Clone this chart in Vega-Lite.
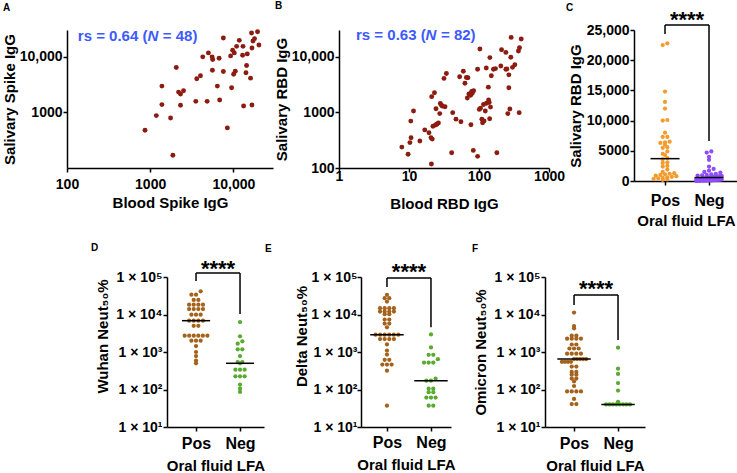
{
"$schema": "https://vega.github.io/schema/vega-lite/v6.json",
"padding": {"left": 2, "top": 0, "right": 0, "bottom": 0},
"datasets": {
"A": [{"x":867,"y":477},{"x":1186,"y":873},{"x":1384,"y":2950},{"x":1384,"y":1373},{"x":1760,"y":791},{"x":1875,"y":169},{"x":2060,"y":6360},{"x":2195,"y":2304},{"x":2318,"y":2123},{"x":2518,"y":2441},{"x":2318,"y":1334},{"x":3537,"y":1572},{"x":3634,"y":3995},{"x":4027,"y":4522},{"x":4290,"y":9880},{"x":4842,"y":1572},{"x":5018,"y":11640},{"x":5557,"y":9880},{"x":5650,"y":8840},{"x":5605,"y":5690},{"x":6740,"y":9330},{"x":6430,"y":2950},{"x":6850,"y":1660},{"x":7590,"y":21570},{"x":7590,"y":5400},{"x":8475,"y":525},{"x":9280,"y":10290},{"x":9540,"y":2760},{"x":9810,"y":12960},{"x":10080,"y":4830},{"x":10560,"y":5465},{"x":10950,"y":15270},{"x":10280,"y":11640},{"x":11800,"y":19540},{"x":13070,"y":15270},{"x":12920,"y":10550},{"x":13290,"y":1296},{"x":14430,"y":6910},{"x":14190,"y":5115},{"x":14720,"y":11170},{"x":16110,"y":4098},{"x":16560,"y":26500},{"x":16750,"y":14300},{"x":17220,"y":19070},{"x":17990,"y":20960},{"x":16750,"y":1350},{"x":19550,"y":27950},{"x":20320,"y":16180}],
"B": [{"x":7.9,"y":237},{"x":9.7,"y":176},{"x":10.3,"y":286},{"x":10.7,"y":350},{"x":10.6,"y":695},{"x":11.6,"y":1055},{"x":14.3,"y":305},{"x":16.8,"y":483},{"x":19.3,"y":428},{"x":20.6,"y":350},{"x":20.9,"y":118},{"x":21.1,"y":1910},{"x":23.1,"y":2245},{"x":22.0,"y":561},{"x":23.9,"y":591},{"x":26.3,"y":641},{"x":24.3,"y":1160},{"x":27.5,"y":948},{"x":28.0,"y":1440},{"x":30.0,"y":1290},{"x":32.7,"y":1260},{"x":31.6,"y":4060},{"x":34.2,"y":4970},{"x":40.7,"y":188},{"x":42.1,"y":986},{"x":46.9,"y":753},{"x":52.9,"y":4340},{"x":55.2,"y":676},{"x":59.7,"y":5460},{"x":63,"y":3320},{"x":69.5,"y":4160},{"x":68.1,"y":1810},{"x":71.8,"y":2130},{"x":75.9,"y":2015},{"x":78.5,"y":2365},{"x":83.8,"y":2430},{"x":76.7,"y":599},{"x":82.9,"y":207},{"x":95.5,"y":162},{"x":95.5,"y":5920},{"x":101,"y":1128},{"x":103,"y":13650},{"x":110,"y":753},{"x":112.5,"y":649},{"x":116,"y":1380},{"x":123,"y":1055},{"x":127,"y":6240},{"x":128,"y":1455},{"x":137,"y":1667},{"x":136,"y":2825},{"x":143,"y":9590},{"x":146,"y":1240},{"x":142,"y":764},{"x":150,"y":4520},{"x":161,"y":5920},{"x":172,"y":6080},{"x":180,"y":188},{"x":205,"y":6760},{"x":210,"y":13280},{"x":242,"y":11880},{"x":242,"y":5920},{"x":258,"y":948},{"x":267,"y":2750},{"x":267,"y":4700},{"x":276,"y":1143},{"x":285,"y":9730},{"x":288,"y":22100},{"x":301,"y":6410},{"x":325,"y":7140},{"x":366,"y":12600},{"x":379,"y":14400},{"x":375,"y":986},{"x":401,"y":20700},{"x":21.5,"y":330},{"x":25,"y":610},{"x":29,"y":1350},{"x":66,"y":4200},{"x":80,"y":2200},{"x":105,"y":1180},{"x":118,"y":700},{"x":140,"y":1500},{"x":250,"y":6000}],
"C": [{"g":"Pos","v":22800},{"g":"Pos","v":22500},{"g":"Pos","v":14800},{"g":"Pos","v":13100},{"g":"Pos","v":12000},{"g":"Pos","v":10100},{"g":"Pos","v":10000},{"g":"Pos","v":8000},{"g":"Pos","v":7300},{"g":"Pos","v":7300},{"g":"Pos","v":6500},{"g":"Pos","v":6400},{"g":"Pos","v":6300},{"g":"Pos","v":6000},{"g":"Pos","v":5600},{"g":"Pos","v":5500},{"g":"Pos","v":4900},{"g":"Pos","v":4500},{"g":"Pos","v":4300},{"g":"Pos","v":3800},{"g":"Pos","v":3600},{"g":"Pos","v":3100},{"g":"Pos","v":3000},{"g":"Pos","v":2500},{"g":"Pos","v":2400},{"g":"Pos","v":1900},{"g":"Pos","v":1500},{"g":"Pos","v":1300},{"g":"Pos","v":1200},{"g":"Pos","v":1100},{"g":"Pos","v":1000},{"g":"Pos","v":900},{"g":"Pos","v":800},{"g":"Pos","v":700},{"g":"Pos","v":600},{"g":"Pos","v":500},{"g":"Pos","v":450},{"g":"Pos","v":350},{"g":"Pos","v":250},{"g":"Pos","v":200},
{"g":"Neg","v":4900},{"g":"Neg","v":4700},{"g":"Neg","v":4000},{"g":"Neg","v":3500},{"g":"Neg","v":2400},{"g":"Neg","v":2000},{"g":"Neg","v":1700},{"g":"Neg","v":1500},{"g":"Neg","v":1400},{"g":"Neg","v":1200},{"g":"Neg","v":1100},{"g":"Neg","v":1000},{"g":"Neg","v":950},{"g":"Neg","v":900},{"g":"Neg","v":850},{"g":"Neg","v":800},{"g":"Neg","v":750},{"g":"Neg","v":700},{"g":"Neg","v":700},{"g":"Neg","v":650},{"g":"Neg","v":600},{"g":"Neg","v":550},{"g":"Neg","v":500},{"g":"Neg","v":450},{"g":"Neg","v":400},{"g":"Neg","v":350},{"g":"Neg","v":300},{"g":"Neg","v":300},{"g":"Neg","v":250},{"g":"Neg","v":200},{"g":"Neg","v":200},{"g":"Neg","v":150},{"g":"Neg","v":150},{"g":"Neg","v":100},{"g":"Neg","v":100},{"g":"Neg","v":100},{"g":"Neg","v":50},{"g":"Neg","v":50},{"g":"Neg","v":50},{"g":"Neg","v":30},{"g":"Neg","v":20},{"g":"Neg","v":10}],
"D": [{"g":"Pos","v":41500},{"g":"Pos","v":33800},{"g":"Pos","v":33800},{"g":"Pos","v":24400},{"g":"Pos","v":24400},{"g":"Pos","v":18300},{"g":"Pos","v":18300},{"g":"Pos","v":18300},{"g":"Pos","v":18300},{"g":"Pos","v":14000},{"g":"Pos","v":14000},{"g":"Pos","v":14000},{"g":"Pos","v":14000},{"g":"Pos","v":9900},{"g":"Pos","v":9900},{"g":"Pos","v":9900},{"g":"Pos","v":6840},{"g":"Pos","v":6840},{"g":"Pos","v":6840},{"g":"Pos","v":6840},{"g":"Pos","v":5000},{"g":"Pos","v":5000},{"g":"Pos","v":2720},{"g":"Pos","v":2720},{"g":"Pos","v":2720},{"g":"Pos","v":2720},{"g":"Pos","v":2720},{"g":"Pos","v":2720},{"g":"Pos","v":2010},{"g":"Pos","v":2010},{"g":"Pos","v":2010},{"g":"Pos","v":1445},{"g":"Pos","v":1000},{"g":"Pos","v":782},{"g":"Pos","v":590},{"g":"Pos","v":500},
{"g":"Neg","v":6300},{"g":"Neg","v":2620},{"g":"Neg","v":1930},{"g":"Neg","v":1670},{"g":"Neg","v":1180},{"g":"Neg","v":1180},{"g":"Neg","v":780},{"g":"Neg","v":540},{"g":"Neg","v":540},{"g":"Neg","v":500},{"g":"Neg","v":337},{"g":"Neg","v":337},{"g":"Neg","v":337},{"g":"Neg","v":225},{"g":"Neg","v":225},{"g":"Neg","v":225},{"g":"Neg","v":134},{"g":"Neg","v":105},{"g":"Neg","v":86}],
"E": [{"g":"Pos","v":33500},{"g":"Pos","v":27300},{"g":"Pos","v":27300},{"g":"Pos","v":22200},{"g":"Pos","v":14700},{"g":"Pos","v":14700},{"g":"Pos","v":14700},{"g":"Pos","v":14700},{"g":"Pos","v":12000},{"g":"Pos","v":12000},{"g":"Pos","v":12000},{"g":"Pos","v":12000},{"g":"Pos","v":10200},{"g":"Pos","v":10200},{"g":"Pos","v":7310},{"g":"Pos","v":7310},{"g":"Pos","v":5720},{"g":"Pos","v":5720},{"g":"Pos","v":4550},{"g":"Pos","v":2900},{"g":"Pos","v":2900},{"g":"Pos","v":2900},{"g":"Pos","v":2900},{"g":"Pos","v":2900},{"g":"Pos","v":2900},{"g":"Pos","v":2210},{"g":"Pos","v":2210},{"g":"Pos","v":2210},{"g":"Pos","v":2210},{"g":"Pos","v":1590},{"g":"Pos","v":1096},{"g":"Pos","v":857},{"g":"Pos","v":617},{"g":"Pos","v":617},{"g":"Pos","v":461},{"g":"Pos","v":461},{"g":"Pos","v":461},{"g":"Pos","v":318},{"g":"Pos","v":37},
{"g":"Neg","v":2950},{"g":"Neg","v":1320},{"g":"Neg","v":842},{"g":"Neg","v":842},{"g":"Neg","v":642},{"g":"Neg","v":522},{"g":"Neg","v":522},{"g":"Neg","v":522},{"g":"Neg","v":195},{"g":"Neg","v":172},{"g":"Neg","v":172},{"g":"Neg","v":105},{"g":"Neg","v":105},{"g":"Neg","v":85},{"g":"Neg","v":85},{"g":"Neg","v":61},{"g":"Neg","v":61},{"g":"Neg","v":61},{"g":"Neg","v":37},{"g":"Neg","v":37}],
"F": [{"g":"Pos","v":11300},{"g":"Pos","v":4930},{"g":"Pos","v":4280},{"g":"Pos","v":2720},{"g":"Pos","v":2720},{"g":"Pos","v":2260},{"g":"Pos","v":2260},{"g":"Pos","v":2260},{"g":"Pos","v":2260},{"g":"Pos","v":1585},{"g":"Pos","v":1585},{"g":"Pos","v":1240},{"g":"Pos","v":1240},{"g":"Pos","v":1240},{"g":"Pos","v":900},{"g":"Pos","v":900},{"g":"Pos","v":900},{"g":"Pos","v":900},{"g":"Pos","v":650},{"g":"Pos","v":650},{"g":"Pos","v":650},{"g":"Pos","v":650},{"g":"Pos","v":650},{"g":"Pos","v":546},{"g":"Pos","v":546},{"g":"Pos","v":546},{"g":"Pos","v":546},{"g":"Pos","v":408},{"g":"Pos","v":408},{"g":"Pos","v":294},{"g":"Pos","v":294},{"g":"Pos","v":249},{"g":"Pos","v":249},{"g":"Pos","v":195},{"g":"Pos","v":195},{"g":"Pos","v":164},{"g":"Pos","v":124},{"g":"Pos","v":89},{"g":"Pos","v":89},{"g":"Pos","v":89},{"g":"Pos","v":89},{"g":"Pos","v":56},{"g":"Pos","v":41},{"g":"Pos","v":41},
{"g":"Neg","v":1300},{"g":"Neg","v":360},{"g":"Neg","v":260},{"g":"Neg","v":149},{"g":"Neg","v":94},{"g":"Neg","v":47},{"g":"Neg","v":40},{"g":"Neg","v":40},{"g":"Neg","v":40},{"g":"Neg","v":40},{"g":"Neg","v":40},{"g":"Neg","v":40},{"g":"Neg","v":40},{"g":"Neg","v":40}]
},
"spacing": 15,
"vconcat": [
{"hconcat": [
 {"width": 206, "height": 138,
  "title": {"text": "A", "dx": -64, "offset": 16},
  "data": {"name": "A"},
  "encoding": {
   "x": {"field": "x", "type": "quantitative", "scale": {"type": "log", "domain": [100, 30000], "nice": false}, "axis": {"values": [100, 1000, 10000], "labelExpr": "datum.value >= 10000 ? format(datum.value, ',') : format(datum.value, 'd')", "title": "Blood Spike IgG", "labelPadding": 5, "titlePadding": 4}},
   "y": {"field": "y", "type": "quantitative", "scale": {"type": "log", "domain": [100, 30000], "nice": false}, "axis": {"values": [1000, 10000], "labelExpr": "datum.value >= 10000 ? format(datum.value, ',') : format(datum.value, 'd')", "title": "Salivary Spike IgG", "labelPadding": 1, "titlePadding": 2}}
  },
  "layer": [
   {"mark": {"type": "circle", "size": 24, "color": "#8b1c0f", "opacity": 1}},
   {"data": {"values": [{"x": 135, "y": 23700}]}, "mark": {"type": "text", "text": "rs = 0.64 (", "align": "left", "baseline": "middle", "fontSize": 15, "fontWeight": "bold", "color": "#3d5afe"}},
   {"data": {"values": [{"x": 135, "y": 23700}]}, "mark": {"type": "text", "text": "N", "align": "left", "baseline": "middle", "fontSize": 15, "fontWeight": "bold", "fontStyle": "italic", "color": "#3d5afe", "dx": 69.6}},
   {"data": {"values": [{"x": 135, "y": 23700}]}, "mark": {"type": "text", "text": "= 48)", "align": "left", "baseline": "middle", "fontSize": 15, "fontWeight": "bold", "color": "#3d5afe", "dx": 85}}
  ]
 },
 {"width": 210, "height": 138,
  "title": {"text": "B", "dx": -64, "offset": 17},
  "data": {"name": "B"},
  "encoding": {
   "x": {"field": "x", "type": "quantitative", "scale": {"type": "log", "domain": [1, 1000], "nice": false}, "axis": {"values": [1, 10, 100, 1000], "labelExpr": "format(datum.value, 'd')", "title": "Blood RBD IgG", "labelPadding": -3, "titlePadding": 13}},
   "y": {"field": "y", "type": "quantitative", "scale": {"type": "log", "domain": [100, 30000], "nice": false}, "axis": {"values": [100, 1000, 10000], "labelExpr": "datum.value >= 10000 ? format(datum.value, ',') : format(datum.value, 'd')", "title": "Salivary RBD IgG", "labelPadding": 1, "titlePadding": 2}}
  },
  "layer": [
   {"mark": {"type": "circle", "size": 24, "color": "#8b1c0f", "opacity": 1}},
   {"data": {"values": [{"x": 1.75, "y": 24400}]}, "mark": {"type": "text", "text": "rs = 0.63 (", "align": "left", "baseline": "middle", "fontSize": 15, "fontWeight": "bold", "color": "#3d5afe"}},
   {"data": {"values": [{"x": 1.75, "y": 24400}]}, "mark": {"type": "text", "text": "N", "align": "left", "baseline": "middle", "fontSize": 15, "fontWeight": "bold", "fontStyle": "italic", "color": "#3d5afe", "dx": 69.6}},
   {"data": {"values": [{"x": 1.75, "y": 24400}]}, "mark": {"type": "text", "text": "= 82)", "align": "left", "baseline": "middle", "fontSize": 15, "fontWeight": "bold", "color": "#3d5afe", "dx": 85}}
  ]
 },
 {"width": 104, "height": 151,
  "title": {"text": "C", "dx": -68, "offset": -4},
  "data": {"name": "C"},
  "encoding": {
   "x": {"field": "xp", "type": "quantitative", "scale": {"domain": [-0.705, 1.659], "nice": false, "zero": false}, "axis": {"values": [0, 1], "labelExpr": "datum.value == 0 ? 'Pos' : 'Neg'", "labelFontSize": 16, "title": "Oral fluid LFA", "labelPadding": 7, "titlePadding": 5}},
   "y": {"field": "v", "type": "quantitative", "scale": {"domain": [0, 25000], "nice": false}, "axis": {"values": [0, 5000, 10000, 15000, 20000, 25000], "labelExpr": "datum.value >= 10000 ? format(datum.value, ',') : format(datum.value, 'd')", "title": "Salivary RBD IgG", "labelPadding": 1, "titlePadding": 3}}
  },
  "layer": [
   {"transform": [{"filter": "datum.g == 'Pos'"}, {"calculate": "floor(datum.v / 600 + 0.5)", "as": "bin"}, {"window": [{"op": "row_number", "as": "r"}, {"op": "count", "as": "n"}], "groupby": ["bin"], "sort": [{"field": "v"}], "frame": [null, null]}, {"calculate": "0 + (datum.r - (datum.n + 1) / 2) * min(0.105, 0.62 / datum.n)", "as": "xp"}],
    "mark": {"type": "circle", "size": 18, "color": "#f39c2e", "opacity": 1}},
   {"transform": [{"filter": "datum.g == 'Neg'"}, {"calculate": "floor(datum.v / 600 + 0.5)", "as": "bin"}, {"window": [{"op": "row_number", "as": "r"}, {"op": "count", "as": "n"}], "groupby": ["bin"], "sort": [{"field": "v"}], "frame": [null, null]}, {"calculate": "1 + (datum.r - (datum.n + 1) / 2) * min(0.105, 0.62 / datum.n)", "as": "xp"}],
    "mark": {"type": "circle", "size": 18, "color": "#8f4dfa", "opacity": 1}},
   {"transform": [{"aggregate": [{"op": "median", "field": "v", "as": "v"}], "groupby": ["g"]}, {"calculate": "(datum.g == 'Pos' ? 0 : 1) - 0.33", "as": "xp"}, {"calculate": "datum.xp + 0.66", "as": "xp2"}],
    "mark": {"type": "rule", "color": "black", "strokeWidth": 1.5}, "encoding": {"x2": {"field": "xp2"}}},
   {"data": {"values": [{"xp": 0, "xp2": 1, "v": 25830, "v2": 25830}, {"xp": 0, "xp2": 0, "v": 25830, "v2": 24340}, {"xp": 1, "xp2": 1, "v": 25830, "v2": 6620}]},
    "mark": {"type": "rule", "color": "black", "strokeWidth": 1.5}, "encoding": {"x2": {"field": "xp2"}, "y2": {"field": "v2"}}},
   {"data": {"values": [{"xp": 0.5, "v": 25500}]}, "mark": {"type": "text", "text": "****", "fontSize": 22, "fontWeight": "bold", "baseline": "alphabetic", "align": "center", "color": "black"}}
  ]
 }
], "spacing": 1},
{"hconcat": [
 {"hconcat": [
  {"width": 24, "height": 150, "data": {"values": [{}]}, "mark": {"type": "text", "text": ""}},
  {"width": 97, "height": 150,
   "title": {"text": "D", "dx": -76, "offset": 5},
   "data": {"name": "D"},
   "encoding": {
    "x": {"field": "xp", "type": "quantitative", "scale": {"domain": [-0.66, 1.545], "nice": false, "zero": false}, "axis": {"values": [0, 1], "labelExpr": "datum.value == 0 ? 'Pos' : 'Neg'", "labelFontSize": 16, "title": "Oral fluid LFA", "labelPadding": 4, "titlePadding": 7}},
    "y": {"field": "v", "type": "quantitative", "scale": {"type": "log", "domain": [10, 100000], "nice": false}, "axis": {"values": [10, 100, 1000, 10000, 100000], "labelExpr": "'1 × 10' + ['⁰','¹','²','³','⁴','⁵'][round(log(datum.value) / LN10)]", "title": "Wuhan Neut₅₀%", "titleY": 59, "labelPadding": 1, "titlePadding": 5}}
   },
   "layer": [
    {"transform": [{"filter": "datum.g == 'Pos'"}, {"calculate": "floor(log(datum.v) / LN10 / 0.12 + 0.5)", "as": "bin"}, {"window": [{"op": "row_number", "as": "r"}, {"op": "count", "as": "n"}], "groupby": ["bin"], "sort": [{"field": "v"}], "frame": [null, null]}, {"calculate": "0 + (datum.r - (datum.n + 1) / 2) * min(0.105, 0.62 / datum.n)", "as": "xp"}],
     "mark": {"type": "circle", "size": 18, "color": "#a5621c", "opacity": 1}},
    {"transform": [{"filter": "datum.g == 'Neg'"}, {"calculate": "floor(log(datum.v) / LN10 / 0.12 + 0.5)", "as": "bin"}, {"window": [{"op": "row_number", "as": "r"}, {"op": "count", "as": "n"}], "groupby": ["bin"], "sort": [{"field": "v"}], "frame": [null, null]}, {"calculate": "1 + (datum.r - (datum.n + 1) / 2) * min(0.105, 0.62 / datum.n)", "as": "xp"}],
     "mark": {"type": "circle", "size": 18, "color": "#5aaa32", "opacity": 1}},
    {"transform": [{"aggregate": [{"op": "median", "field": "v", "as": "v"}], "groupby": ["g"]}, {"calculate": "(datum.g == 'Pos' ? 0 : 1) - 0.32", "as": "xp"}, {"calculate": "datum.xp + 0.64", "as": "xp2"}],
     "mark": {"type": "rule", "color": "black", "strokeWidth": 1.5}, "encoding": {"x2": {"field": "xp2"}}},
    {"data": {"values": [{"xp": 0, "xp2": 1, "v": 128000, "v2": 128000}, {"xp": 0, "xp2": 0, "v": 128000, "v2": 78000}, {"xp": 1, "xp2": 1, "v": 128000, "v2": 10300}]},
     "mark": {"type": "rule", "color": "black", "strokeWidth": 1.5}, "encoding": {"x2": {"field": "xp2"}, "y2": {"field": "v2"}}},
    {"data": {"values": [{"xp": 0.5, "v": 106000}]}, "mark": {"type": "text", "text": "****", "fontSize": 22, "fontWeight": "bold", "baseline": "alphabetic", "align": "center", "color": "black"}}
   ]
  },
  {"width": 90, "height": 150,
   "title": {"text": "E", "dx": -96, "offset": 7},
   "data": {"name": "E"},
   "encoding": {
    "x": {"field": "xp", "type": "quantitative", "scale": {"domain": [-0.59, 1.455], "nice": false, "zero": false}, "axis": {"values": [0, 1], "labelExpr": "datum.value == 0 ? 'Pos' : 'Neg'", "labelFontSize": 16, "title": "Oral fluid LFA", "labelPadding": 3, "titlePadding": 7}},
    "y": {"field": "v", "type": "quantitative", "scale": {"type": "log", "domain": [10, 100000], "nice": false}, "axis": {"values": [10, 100, 1000, 10000, 100000], "labelExpr": "'1 × 10' + ['⁰','¹','²','³','⁴','⁵'][round(log(datum.value) / LN10)]", "title": "Delta Neut₅₀%", "titleY": 59, "labelPadding": 0, "titlePadding": 1}}
   },
   "layer": [
    {"transform": [{"filter": "datum.g == 'Pos'"}, {"calculate": "floor(log(datum.v) / LN10 / 0.12 + 0.5)", "as": "bin"}, {"window": [{"op": "row_number", "as": "r"}, {"op": "count", "as": "n"}], "groupby": ["bin"], "sort": [{"field": "v"}], "frame": [null, null]}, {"calculate": "0 + (datum.r - (datum.n + 1) / 2) * min(0.105, 0.62 / datum.n)", "as": "xp"}],
     "mark": {"type": "circle", "size": 18, "color": "#a5621c", "opacity": 1}},
    {"transform": [{"filter": "datum.g == 'Neg'"}, {"calculate": "floor(log(datum.v) / LN10 / 0.12 + 0.5)", "as": "bin"}, {"window": [{"op": "row_number", "as": "r"}, {"op": "count", "as": "n"}], "groupby": ["bin"], "sort": [{"field": "v"}], "frame": [null, null]}, {"calculate": "1 + (datum.r - (datum.n + 1) / 2) * min(0.105, 0.62 / datum.n)", "as": "xp"}],
     "mark": {"type": "circle", "size": 18, "color": "#5aaa32", "opacity": 1}},
    {"transform": [{"aggregate": [{"op": "median", "field": "v", "as": "v"}], "groupby": ["g"]}, {"calculate": "(datum.g == 'Pos' ? 0 : 1) - 0.38", "as": "xp"}, {"calculate": "datum.xp + 0.76", "as": "xp2"}],
     "mark": {"type": "rule", "color": "black", "strokeWidth": 1.5}, "encoding": {"x2": {"field": "xp2"}}},
    {"data": {"values": [{"xp": 0, "xp2": 1, "v": 94000, "v2": 94000}, {"xp": 0, "xp2": 0, "v": 94000, "v2": 54000}, {"xp": 1, "xp2": 1, "v": 94000, "v2": 4600}]},
     "mark": {"type": "rule", "color": "black", "strokeWidth": 1.5}, "encoding": {"x2": {"field": "xp2"}, "y2": {"field": "v2"}}},
    {"data": {"values": [{"xp": 0.5, "v": 88000}]}, "mark": {"type": "text", "text": "****", "fontSize": 22, "fontWeight": "bold", "baseline": "alphabetic", "align": "center", "color": "black"}}
   ]
  }
 ], "spacing": 0},
 {"width": 100, "height": 150,
  "title": {"text": "F", "dx": -73, "offset": 16},
  "data": {"name": "F"},
  "encoding": {
   "x": {"field": "xp", "type": "quantitative", "scale": {"domain": [-0.66, 1.613], "nice": false, "zero": false}, "axis": {"values": [0, 1], "labelExpr": "datum.value == 0 ? 'Pos' : 'Neg'", "labelFontSize": 16, "title": "Oral fluid LFA", "labelPadding": 4, "titlePadding": 7}},
   "y": {"field": "v", "type": "quantitative", "scale": {"type": "log", "domain": [10, 100000], "nice": false}, "axis": {"values": [10, 100, 1000, 10000, 100000], "labelExpr": "'1 × 10' + ['⁰','¹','²','³','⁴','⁵'][round(log(datum.value) / LN10)]", "title": "Omicron Neut₅₀%", "labelPadding": 1, "titlePadding": 5}}
  },
  "layer": [
   {"transform": [{"filter": "datum.g == 'Pos'"}, {"calculate": "floor(log(datum.v) / LN10 / 0.12 + 0.5)", "as": "bin"}, {"window": [{"op": "row_number", "as": "r"}, {"op": "count", "as": "n"}], "groupby": ["bin"], "sort": [{"field": "v"}], "frame": [null, null]}, {"calculate": "0 + (datum.r - (datum.n + 1) / 2) * min(0.105, 0.62 / datum.n)", "as": "xp"}],
    "mark": {"type": "circle", "size": 18, "color": "#a5621c", "opacity": 1}},
   {"transform": [{"filter": "datum.g == 'Neg'"}, {"calculate": "floor(log(datum.v) / LN10 / 0.12 + 0.5)", "as": "bin"}, {"window": [{"op": "row_number", "as": "r"}, {"op": "count", "as": "n"}], "groupby": ["bin"], "sort": [{"field": "v"}], "frame": [null, null]}, {"calculate": "1 + (datum.r - (datum.n + 1) / 2) * min(0.105, 0.62 / datum.n)", "as": "xp"}],
    "mark": {"type": "circle", "size": 18, "color": "#5aaa32", "opacity": 1}},
   {"transform": [{"aggregate": [{"op": "median", "field": "v", "as": "v"}], "groupby": ["g"]}, {"calculate": "(datum.g == 'Pos' ? 0 : 1) - 0.38", "as": "xp"}, {"calculate": "datum.xp + 0.76", "as": "xp2"}],
    "mark": {"type": "rule", "color": "black", "strokeWidth": 1.5}, "encoding": {"x2": {"field": "xp2"}}},
   {"data": {"values": [{"xp": 0, "xp2": 1, "v": 33000, "v2": 33000}, {"xp": 0, "xp2": 0, "v": 33000, "v2": 17900}, {"xp": 1, "xp2": 1, "v": 33000, "v2": 2090}]},
    "mark": {"type": "rule", "color": "black", "strokeWidth": 1.5}, "encoding": {"x2": {"field": "xp2"}, "y2": {"field": "v2"}}},
   {"data": {"values": [{"xp": 0.5, "v": 31000}]}, "mark": {"type": "text", "text": "****", "fontSize": 22, "fontWeight": "bold", "baseline": "alphabetic", "align": "center", "color": "black"}}
  ]
 }
], "spacing": 16}
],
"config": {
 "font": "Liberation Sans",
 "view": {"stroke": null},
 "axis": {"grid": false, "domainColor": "black", "domainWidth": 1.5, "tickColor": "black", "tickWidth": 1.5, "tickSize": 4, "labelFont": "Liberation Sans", "labelFontSize": 14, "labelFontWeight": "bold", "labelColor": "black", "labelFlush": false, "labelOverlap": false, "labelAngle": 0, "titleFont": "Liberation Sans", "titleFontSize": 15, "titleFontWeight": "bold", "titleColor": "black"},
 "title": {"font": "Liberation Sans", "fontSize": 10, "fontWeight": "bold", "anchor": "start", "frame": "group", "baseline": "alphabetic", "color": "black"}
}
}
